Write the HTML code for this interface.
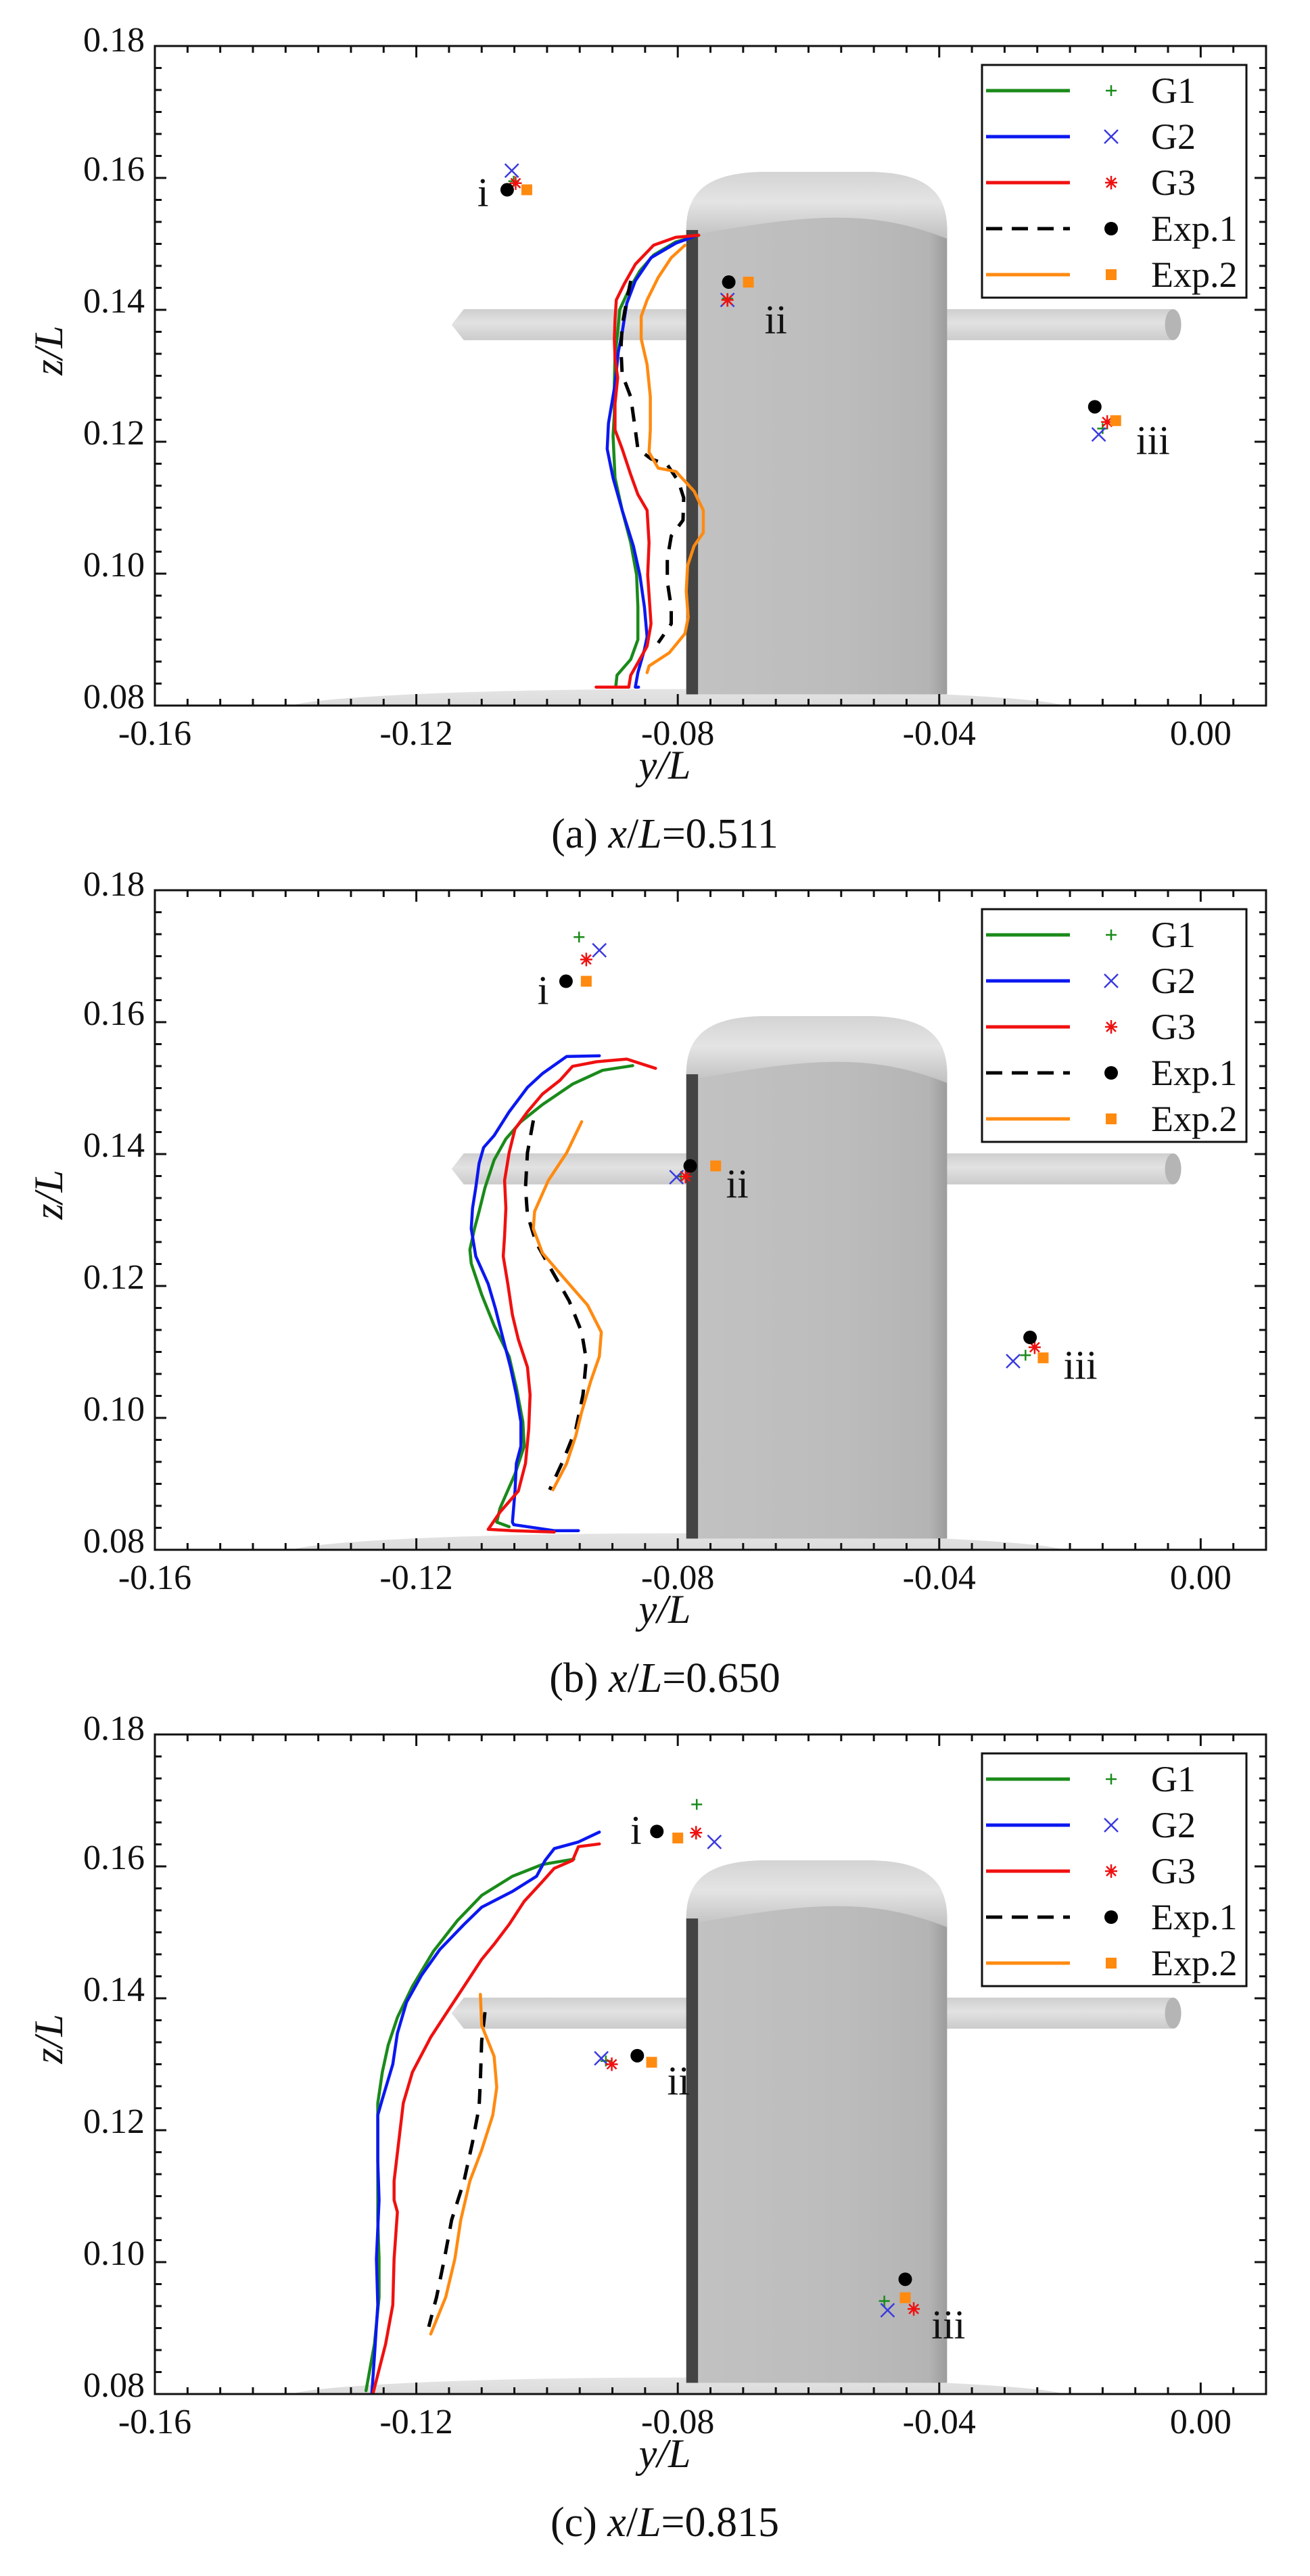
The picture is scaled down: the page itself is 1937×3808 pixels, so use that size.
<!DOCTYPE html>
<html><head><meta charset="utf-8">
<style>
html,body{margin:0;padding:0;background:#fff;}
svg{display:block;}
text{font-family:"Liberation Serif","DejaVu Serif",serif;fill:#111;}
</style></head>
<body>
<svg id="fig" xmlns="http://www.w3.org/2000/svg" width="1937" height="3808" viewBox="0 0 1937 3808">
<defs>
<linearGradient id="sailG" x1="0" x2="1" y1="0" y2="0">
<stop offset="0" stop-color="#c2c2c2"/><stop offset="0.6" stop-color="#bcbcbc"/><stop offset="0.93" stop-color="#b4b4b4"/><stop offset="1" stop-color="#9c9c9c"/></linearGradient>
<linearGradient id="domeG" x1="0" x2="0" y1="0" y2="1">
<stop offset="0" stop-color="#d4d4d4"/><stop offset="0.45" stop-color="#e4e4e4"/><stop offset="1" stop-color="#c0c0c0"/></linearGradient>
<linearGradient id="planeG" x1="0" x2="0" y1="0" y2="1">
<stop offset="0" stop-color="#cfcfcf"/><stop offset="0.45" stop-color="#e2e2e2"/><stop offset="1" stop-color="#cbcbcb"/></linearGradient>
<linearGradient id="hullG" x1="0" x2="0" y1="0" y2="1">
<stop offset="0" stop-color="#e4e4e4"/><stop offset="1" stop-color="#cfcfcf"/></linearGradient>
</defs>
</svg>
<script>
const xTicks = [-0.16, -0.12, -0.08, -0.04, 0.00];
const xTickLabels = ["-0.16", "-0.12", "-0.08", "-0.04", "0.00"];
const yTicks = [0.08, 0.10, 0.12, 0.14, 0.16, 0.18];
const yTickLabels = ["0.08", "0.10", "0.12", "0.14", "0.16", "0.18"];
const seriesNames = ["G1", "G2", "G3", "Exp.1", "Exp.2"];
const pointLabels = ["i", "ii", "iii"];
const captionsText = ["x/L=0.511", "x/L=0.650", "x/L=0.815"];

const a_G1_y = [-0.0768,-0.0803,-0.0837,-0.0858,-0.0875,-0.0889,-0.0892,-0.0896,-0.0897,-0.0897,-0.0899,-0.0896,-0.0885,-0.0872,-0.0863,-0.0861,-0.0861,-0.0872,-0.0893,-0.0895];
const a_G1_z = [0.1513,0.1503,0.1483,0.1459,0.1430,0.1400,0.1366,0.1331,0.1287,0.1243,0.1209,0.1145,0.1096,0.1047,0.0998,0.0949,0.0900,0.0870,0.0846,0.0828];
const a_G2_y = [-0.0770,-0.0803,-0.0841,-0.0865,-0.0878,-0.0885,-0.0891,-0.0896,-0.0906,-0.0908,-0.0899,-0.0885,-0.0868,-0.0858,-0.0851,-0.0847,-0.0851,-0.0861,-0.0865,-0.0860];
const a_G2_z = [0.1513,0.1501,0.1479,0.1444,0.1410,0.1366,0.1336,0.1287,0.1228,0.1189,0.1145,0.1096,0.1042,0.0998,0.0949,0.0904,0.0885,0.0850,0.0828,0.0828];
const a_G3_y = [-0.0768,-0.0803,-0.0837,-0.0865,-0.0882,-0.0894,-0.0896,-0.0897,-0.0896,-0.0892,-0.0896,-0.0896,-0.0885,-0.0872,-0.0861,-0.0847,-0.0844,-0.0846,-0.0841,-0.0847,-0.0861,-0.0872,-0.0875,-0.0925];
const a_G3_z = [0.1513,0.1510,0.1498,0.1469,0.1439,0.1415,0.1385,0.1356,0.1326,0.1297,0.1258,0.1218,0.1189,0.1150,0.1120,0.1096,0.1047,0.0998,0.0924,0.0890,0.0865,0.0846,0.0828,0.0828];
const a_E1_y = [-0.0872,-0.0878,-0.0885,-0.0887,-0.0885,-0.0872,-0.0865,-0.0861,-0.0841,-0.0816,-0.0799,-0.0791,-0.0792,-0.0810,-0.0816,-0.0816,-0.0810,-0.0810,-0.0830];
const a_E1_z = [0.1444,0.1415,0.1376,0.1341,0.1302,0.1268,0.1218,0.1189,0.1174,0.1165,0.1140,0.1115,0.1081,0.1057,0.1022,0.0988,0.0949,0.0924,0.0895];
const a_E2_y = [-0.0789,-0.0810,-0.0830,-0.0847,-0.0856,-0.0856,-0.0847,-0.0842,-0.0842,-0.0844,-0.0830,-0.0803,-0.0775,-0.0761,-0.0761,-0.0775,-0.0785,-0.0787,-0.0784,-0.0789,-0.0813,-0.0844,-0.0847];
const a_E2_z = [0.1498,0.1479,0.1449,0.1415,0.1390,0.1356,0.1317,0.1268,0.1218,0.1184,0.1160,0.1155,0.1125,0.1096,0.1062,0.1042,0.1012,0.0973,0.0934,0.0909,0.0880,0.0860,0.0850];
const a_ptG1_y = [-0.1051,-0.0724,-0.0150]; const a_ptG1_z = [0.1595,0.1417,0.1220];
const a_ptG2_y = [-0.1054,-0.0724,-0.0156]; const a_ptG2_z = [0.1611,0.1415,0.1211];
const a_ptG3_y = [-0.1048,-0.0724,-0.0143]; const a_ptG3_z = [0.1592,0.1415,0.1230];
const a_ptE1_y = [-0.1061,-0.0722,-0.0162]; const a_ptE1_z = [0.1582,0.1442,0.1253];
const a_ptE2_y = [-0.1031,-0.0692,-0.0130]; const a_ptE2_z = [0.1582,0.1442,0.1232];
const a_lab_y = [-0.1098,-0.0650,-0.0073]; const a_lab_z = [0.1578,0.1385,0.1202];

const b_G1_y = [-0.0869,-0.0915,-0.0961,-0.1007,-0.1040,-0.1063,-0.1081,-0.1095,-0.1104,-0.1111,-0.1118,-0.1116,-0.1100,-0.1081,-0.1058,-0.1047,-0.1037,-0.1035,-0.1049,-0.1072,-0.1077,-0.1058];
const b_G1_z = [0.1534,0.1527,0.1506,0.1475,0.1449,0.1423,0.1391,0.1349,0.1313,0.1287,0.1255,0.1234,0.1187,0.1140,0.1093,0.1046,0.0994,0.0957,0.0915,0.0863,0.0842,0.0835];
const b_G2_y = [-0.0920,-0.0970,-0.1007,-0.1030,-0.1058,-0.1081,-0.1097,-0.1104,-0.1109,-0.1114,-0.1116,-0.1109,-0.1090,-0.1079,-0.1067,-0.1056,-0.1047,-0.1040,-0.1040,-0.1047,-0.1049,-0.1053,-0.1051,-0.0989,-0.0952];
const b_G2_z = [0.1549,0.1548,0.1522,0.1501,0.1464,0.1428,0.1410,0.1386,0.1349,0.1318,0.1287,0.1245,0.1203,0.1166,0.1119,0.1077,0.1035,0.0994,0.0957,0.0931,0.0889,0.0842,0.0838,0.0829,0.0829];
const b_G3_y = [-0.0834,-0.0878,-0.0924,-0.0961,-0.0980,-0.1007,-0.1030,-0.1049,-0.1058,-0.1065,-0.1063,-0.1065,-0.1067,-0.1060,-0.1053,-0.1044,-0.1030,-0.1026,-0.1028,-0.1033,-0.1044,-0.1072,-0.1090,-0.1053,-0.0989];
const b_G3_z = [0.1530,0.1544,0.1540,0.1533,0.1512,0.1491,0.1464,0.1438,0.1402,0.1360,0.1318,0.1276,0.1245,0.1203,0.1156,0.1119,0.1077,0.1035,0.0983,0.0931,0.0889,0.0857,0.0831,0.0829,0.0827];
const b_E1_y = [-0.1021,-0.1030,-0.1033,-0.1030,-0.1017,-0.0993,-0.0966,-0.0947,-0.0940,-0.0945,-0.0956,-0.0975,-0.0996];
const b_E1_z = [0.1451,0.1402,0.1349,0.1308,0.1266,0.1224,0.1177,0.1130,0.1088,0.1035,0.0983,0.0936,0.0891];
const b_E2_y = [-0.0947,-0.0970,-0.0998,-0.1019,-0.1021,-0.1007,-0.0975,-0.0938,-0.0917,-0.0920,-0.0933,-0.0947,-0.0956,-0.0970,-0.0991];
const b_E2_z = [0.1449,0.1402,0.1360,0.1313,0.1287,0.1250,0.1213,0.1171,0.1130,0.1093,0.1056,0.1009,0.0973,0.0931,0.0891];
const b_ptG1_y = [-0.0951,-0.0795,-0.0268]; const b_ptG1_z = [0.1729,0.1366,0.1095];
const b_ptG2_y = [-0.0920,-0.0802,-0.0287]; const b_ptG2_z = [0.1709,0.1365,0.1086];
const b_ptG3_y = [-0.0940,-0.0788,-0.0254]; const b_ptG3_z = [0.1695,0.1366,0.1107];
const b_ptE1_y = [-0.0971,-0.0781,-0.0261]; const b_ptE1_z = [0.1662,0.1382,0.1122];
const b_ptE2_y = [-0.0940,-0.0742,-0.0241]; const b_ptE2_z = [0.1662,0.1382,0.1091];
const b_lab_y = [-0.1006,-0.0709,-0.0184]; const b_lab_z = [0.1648,0.1355,0.1080];

const c_G1_y = [-0.0959,-0.1007,-0.1053,-0.1100,-0.1137,-0.1174,-0.1206,-0.1229,-0.1243,-0.1252,-0.1259,-0.1259,-0.1259,-0.1259,-0.1257,-0.1257,-0.1264,-0.1277];
const c_G1_z = [0.1611,0.1603,0.1585,0.1556,0.1518,0.1471,0.1418,0.1371,0.1329,0.1288,0.1241,0.1182,0.1123,0.1064,0.1005,0.0947,0.0876,0.0805];
const c_G2_y = [-0.0920,-0.0952,-0.0989,-0.1003,-0.1016,-0.1053,-0.1100,-0.1127,-0.1164,-0.1192,-0.1215,-0.1229,-0.1236,-0.1252,-0.1259,-0.1259,-0.1257,-0.1261,-0.1259,-0.1264,-0.1268];
const c_G2_z = [0.1652,0.1637,0.1627,0.1609,0.1585,0.1562,0.1538,0.1512,0.1474,0.1435,0.1394,0.1347,0.1300,0.1247,0.1223,0.1153,0.1094,0.1005,0.0935,0.0858,0.0802];
const c_G3_y = [-0.0920,-0.0952,-0.0961,-0.0989,-0.1007,-0.1035,-0.1058,-0.1081,-0.1100,-0.1127,-0.1155,-0.1178,-0.1206,-0.1220,-0.1227,-0.1234,-0.1234,-0.1229,-0.1234,-0.1236,-0.1247,-0.1266];
const c_G3_z = [0.1634,0.1630,0.1609,0.1597,0.1577,0.1547,0.1512,0.1482,0.1459,0.1418,0.1376,0.1341,0.1288,0.1241,0.1182,0.1123,0.1094,0.1076,0.1005,0.0935,0.0876,0.0802];
const c_E1_y = [-0.1095,-0.1100,-0.1102,-0.1104,-0.1114,-0.1127,-0.1146,-0.1157,-0.1169,-0.1181];
const c_E1_z = [0.1379,0.1335,0.1276,0.1235,0.1182,0.1123,0.1064,0.1005,0.0947,0.0902];
const c_E2_y = [-0.1102,-0.1100,-0.1081,-0.1077,-0.1083,-0.1100,-0.1118,-0.1132,-0.1141,-0.1155,-0.1178];
const c_E2_z = [0.1406,0.1359,0.1312,0.1265,0.1223,0.1170,0.1123,0.1064,0.1005,0.0947,0.0891];
const c_ptG1_y = [-0.0771,-0.0910,-0.0484]; const c_ptG1_z = [0.1694,0.1305,0.0941];
const c_ptG2_y = [-0.0744,-0.0917,-0.0479]; const c_ptG2_z = [0.1637,0.1309,0.0927];
const c_ptG3_y = [-0.0772,-0.0901,-0.0439]; const c_ptG3_z = [0.1651,0.1300,0.0929];
const c_ptE1_y = [-0.0832,-0.0862,-0.0452]; const c_ptE1_z = [0.1653,0.1313,0.0974];
const c_ptE2_y = [-0.0800,-0.0840,-0.0452]; const c_ptE2_z = [0.1643,0.1303,0.0946];
const c_lab_y = [-0.0864,-0.0799,-0.0386]; const c_lab_z = [0.1655,0.1275,0.0905];

const NS = "http://www.w3.org/2000/svg";
const svg = document.getElementById("fig");
const X0 = 229, X1 = 1872, XMIN = -0.16, XMAX = 0.01;
const PANEL_TOP = [68, 1316, 2564], PH = 975, YMIN = 0.08, YMAX = 0.18;
const COLORS = ["#1a8a1a", "#0b18f0", "#f01010", "#000000", "#ff8a10"];
const MCOL = ["#1a8a1a", "#3a3ae0", "#f01010", "#000000", "#ff8a10"];

function el(tag, attrs, parent) {
  const e = document.createElementNS(NS, tag);
  for (const k in attrs) e.setAttribute(k, attrs[k]);
  (parent || svg).appendChild(e);
  return e;
}
function makeScales(p) {
  const top = PANEL_TOP[p];
  return {
    sx: v => X0 + (v - XMIN) / (XMAX - XMIN) * (X1 - X0),
    sy: v => top + (YMAX - v) / (YMAX - YMIN) * PH,
    top: top, bottom: top + PH
  };
}
function marker(g, kind, x, y, color) {
  let m;
  if (kind === 0) { m = el("path", {d:`M${x-8},${y}H${x+8}M${x},${y-8}V${y+8}`, stroke:color, "stroke-width":2.5, fill:"none"}, g); }
  else if (kind === 1) { m = el("path", {d:`M${x-10},${y-10}L${x+10},${y+10}M${x-10},${y+10}L${x+10},${y-10}`, stroke:color, "stroke-width":2.5, fill:"none"}, g); }
  else if (kind === 2) { m = el("path", {d:`M${x-9},${y}H${x+9}M${x},${y-10}V${y+10}M${x-7},${y-7}L${x+7},${y+7}M${x-7},${y+7}L${x+7},${y-7}`, stroke:color, "stroke-width":2.5, fill:"none"}, g); }
  else if (kind === 3) { m = el("circle", {cx:x, cy:y, r:10, fill:color}, g); }
  else { m = el("rect", {x:x-8, y:y-8, width:16, height:16, fill:color}, g); }
  return m;
}

const panels = [
  {tag:"a", lines:[[a_G1_y,a_G1_z],[a_G2_y,a_G2_z],[a_G3_y,a_G3_z],[a_E1_y,a_E1_z],[a_E2_y,a_E2_z]],
   pts:[[a_ptG1_y,a_ptG1_z],[a_ptG2_y,a_ptG2_z],[a_ptG3_y,a_ptG3_z],[a_ptE1_y,a_ptE1_z],[a_ptE2_y,a_ptE2_z]], lab:[a_lab_y,a_lab_z]},
  {tag:"b", lines:[[b_G1_y,b_G1_z],[b_G2_y,b_G2_z],[b_G3_y,b_G3_z],[b_E1_y,b_E1_z],[b_E2_y,b_E2_z]],
   pts:[[b_ptG1_y,b_ptG1_z],[b_ptG2_y,b_ptG2_z],[b_ptG3_y,b_ptG3_z],[b_ptE1_y,b_ptE1_z],[b_ptE2_y,b_ptE2_z]], lab:[b_lab_y,b_lab_z]},
  {tag:"c", lines:[[c_G1_y,c_G1_z],[c_G2_y,c_G2_z],[c_G3_y,c_G3_z],[c_E1_y,c_E1_z],[c_E2_y,c_E2_z]],
   pts:[[c_ptG1_y,c_ptG1_z],[c_ptG2_y,c_ptG2_z],[c_ptG3_y,c_ptG3_z],[c_ptE1_y,c_ptE1_z],[c_ptE2_y,c_ptE2_z]], lab:[c_lab_y,c_lab_z]}
];

panels.forEach((P, p) => {
  const s = makeScales(p);
  const g = el("g", {});
  
  
  const clipId = "clip" + p;
  const cp = el("clipPath", {id: clipId}, g);
  el("rect", {x:X0, y:s.top, width:X1-X0, height:PH}, cp);
  const geo = el("g", {"clip-path":`url(#${clipId})`}, g);
  
  

  const hull = el("ellipse", {cx:s.sx(-0.08), cy:s.sy(0.0795), rx:s.sx(-0.02)-s.sx(-0.08), ry:s.sy(0.0795)-s.sy(0.0825), fill:"url(#hullG)"}, geo);
  
  

  const pT = s.sy(0.1401), pB = s.sy(0.1354), pm = (pT+pB)/2;
  const lx = s.sx(-0.1146), rx = s.sx(-0.0036);
  const plane = el("path", {d:`M${lx},${pm} L${lx+18},${pT} L${rx-8},${pT} Q${rx+12},${pm} ${rx-8},${pB} L${lx+18},${pB} Z`, fill:"url(#planeG)"}, geo);
  
  
  el("ellipse", {cx:rx-6, cy:pm, rx:12, ry:(pB-pT)/2, fill:"#b5b5b5"}, geo);

  const sL = s.sx(-0.0787), sS = s.sx(-0.0769), sR = s.sx(-0.0388);
  const sTop = s.sy(0.1611), sSh = s.sy(0.1521), sRSh = s.sy(0.1520), sBot = s.sy(0.0817);
  const domePath = `M${sL},${sSh} C${sL},${sTop+25} ${sL+40},${sTop+4} ${sL+110},${sTop+2} L${sR-110},${sTop+2} C${sR-40},${sTop+4} ${sR},${sTop+25} ${sR},${sRSh}`;
  const sail = el("path", {d:`${domePath} L${sR},${sBot} L${sL},${sBot} Z`, fill:"url(#sailG)"}, geo);
  
  
  el("path", {d:`${domePath} L${sR},${sRSh+12} C${sR-120},${sSh-35} ${sS+150},${sSh-20} ${sS},${sSh+6} Z`, fill:"url(#domeG)"}, geo);
  const strip = el("rect", {x:sL, y:sSh, width:sS-sL, height:sBot-sSh, fill:"#444"}, geo);
  
  

  P.lines.forEach((L, k) => {
    const d = L[0].map((v, i) => (i ? "L" : "M") + s.sx(v).toFixed(1) + "," + s.sy(L[1][i]).toFixed(1)).join(" ");
    const attrs = {d:d, fill:"none", stroke:COLORS[k], "stroke-width":4.5, "stroke-linejoin":"round", "stroke-linecap":"round"};
    if (k === 3) { attrs["stroke-dasharray"] = "22,16"; attrs["stroke-linecap"] = "butt"; attrs["stroke-width"] = 5; }
    const path = el("path", attrs, g);
    
    
  });

  P.pts.forEach((Q, k) => {
    Q[0].forEach((v, i) => {
      const m = marker(g, k, s.sx(v), s.sy(Q[1][i]), MCOL[k]);
      
      
    });
  });
  P.lab[0].forEach((v, i) => {
    const t = el("text", {x:s.sx(v), y:s.sy(P.lab[1][i]) + 20, "font-size":60, "text-anchor":"middle"}, g);
    t.textContent = pointLabels[i];
    
    
  });

  const frame = el("rect", {x:X0, y:s.top, width:X1-X0, height:PH, fill:"none", stroke:"#111", "stroke-width":3}, g);
  
  

  const tk = el("g", {stroke:"#111", "stroke-width":3}, g);
  
  
  for (let i = 0; i <= 34; i++) {
    const v = XMIN + i * 0.005, x = s.sx(v);
    const major = i % 8 === 0, len = major ? 17 : 10;
    el("line", {x1:x, x2:x, y1:s.bottom, y2:s.bottom - len}, tk);
    el("line", {x1:x, x2:x, y1:s.top, y2:s.top + len}, tk);
  }
  for (let i = 0; i <= 30; i++) {
    const v = YMIN + i * 0.02 / 6, y = s.sy(v);
    const major = i % 6 === 0, len = major ? 17 : 10;
    el("line", {x1:X0, x2:X0 + len, y1:y, y2:y}, tk);
    el("line", {x1:X1, x2:X1 - len, y1:y, y2:y}, tk);
  }
  xTicks.forEach((v, i) => {
    const t = el("text", {x:s.sx(v), y:s.bottom + 58, "font-size":52, "text-anchor":"middle"}, g);
    t.textContent = xTickLabels[i];
    
    
  });
  yTicks.forEach((v, i) => {
    const t = el("text", {x:214, y:s.sy(v) + (i === 5 ? 8 : 4), "font-size":52, "text-anchor":"end"}, g);
    t.textContent = yTickLabels[i];
    
    
  });

  const xt = el("text", {x:983, y:s.bottom + 108, "font-size":60, "text-anchor":"middle", "font-style":"italic"}, g);
  xt.textContent = "y/L";
  
  
  const ym = s.top + 450;
  const yt = el("text", {x:0, y:0, "font-size":60, "text-anchor":"middle", "font-style":"italic", transform:`translate(92,${ym}) rotate(-90)`}, g);
  yt.textContent = "z/L";
  
  

  const cap = el("text", {x:983, y:s.bottom + 210, "font-size":62, "text-anchor":"middle"}, g);
  
  
  const t1 = el("tspan", {}, cap); t1.textContent = "(" + P.tag + ") ";
  const t2 = el("tspan", {"font-style":"italic"}, cap); t2.textContent = "x";
  const t3 = el("tspan", {}, cap); t3.textContent = "/";
  const t4 = el("tspan", {"font-style":"italic"}, cap); t4.textContent = "L";
  const t5 = el("tspan", {}, cap); t5.textContent = captionsText[p].slice(3);

  const lg = el("g", {}, g);
  
  
  const LT = s.top + 28;
  el("rect", {x:1452, y:LT, width:391, height:344, fill:"#fff", stroke:"#111", "stroke-width":3}, lg);
  seriesNames.forEach((n, k) => {
    const ry = LT + 38 + k * 68;
    const e = el("g", {}, lg);
    
    
    const la = {x1:1458, x2:1582, y1:ry, y2:ry, stroke:COLORS[k], "stroke-width":5};
    if (k === 3) la["stroke-dasharray"] = "24,14";
    el("line", la, e);
    marker(e, k, 1643, ry, MCOL[k]);
    const t = el("text", {x:1702, y:ry + 18, "font-size":54}, e);
    t.textContent = n;
  });
});
</script>
</body></html>
